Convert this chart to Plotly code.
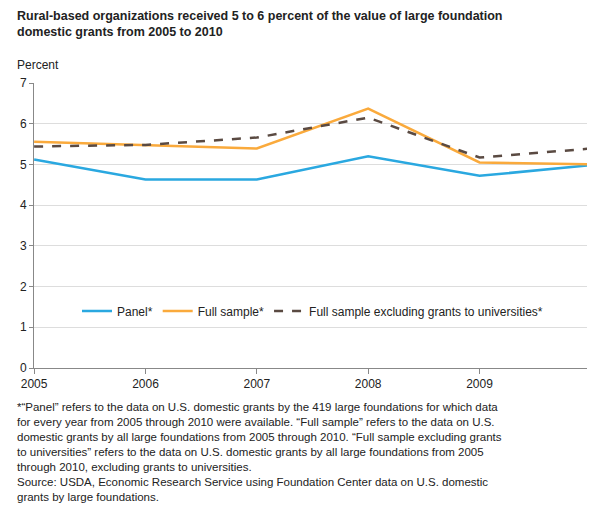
import plotly.graph_objects as go

years = [2005, 2006, 2007, 2008, 2009, 2010]
panel = [5.12, 4.63, 4.63, 5.2, 4.72, 4.98]
full_sample = [5.56, 5.48, 5.39, 6.37, 5.05, 5.0]
full_excl = [5.44, 5.48, 5.66, 6.15, 5.17, 5.39]

fig = go.Figure()
fig.add_trace(go.Scatter(x=years, y=panel, mode='lines', name='Panel*',
                         line=dict(color='#2AA8E0', width=2.5)))
fig.add_trace(go.Scatter(x=years, y=full_sample, mode='lines', name='Full sample*',
                         line=dict(color='#FAAA3C', width=2.5)))
fig.add_trace(go.Scatter(x=years, y=full_excl, mode='lines',
                         name='Full sample excluding grants to universities*',
                         line=dict(color='#5A4A42', width=2.5, dash='dash')))

notes = ("*“Panel” refers to the data on U.S. domestic grants by the 419 large foundations for which data<br>"
         "for every year from 2005 through 2010 were available. “Full sample” refers to the data on U.S.<br>"
         "domestic grants by all large foundations from 2005 through 2010. “Full sample excluding grants<br>"
         "to universities” refers to the data on U.S. domestic grants by all large foundations from 2005<br>"
         "through 2010, excluding grants to universities.<br>"
         "Source: USDA, Economic Research Service using Foundation Center data on U.S. domestic<br>"
         "grants by large foundations.")

fig.update_layout(
    width=595, height=532,
    margin=dict(l=22, r=12, t=75, b=172),
    plot_bgcolor='white', paper_bgcolor='white',
    font=dict(family='Liberation Sans, Arial', size=12, color='#222'),
    showlegend=True,
    legend=dict(orientation='h', x=0.5, xanchor='center', y=0.2, yanchor='middle',
                bgcolor='rgba(0,0,0,0)', font=dict(size=12)),
    xaxis=dict(range=[2004.999, 2010.001], tickvals=years, showgrid=False, zeroline=False,
               showline=True, linecolor='#888', ticks='outside', ticklen=5, tickcolor='#888'),
    yaxis=dict(range=[0, 7], dtick=1, showgrid=True, gridcolor='#ddd', zeroline=False,
               showline=True, linecolor='#888', ticks='outside', ticklen=4, tickcolor='#888'),
    annotations=[
        dict(text='<b>Rural-based organizations received 5 to 6 percent of the value of large foundation<br>'
                  'domestic grants from 2005 to 2010</b>',
             xref='paper', yref='paper', x=-0.035, y=1.265, xanchor='left', yanchor='top',
             showarrow=False, align='left', font=dict(size=12.5)),
        dict(text='Percent', xref='paper', yref='paper', x=-0.035, y=1.03,
             xanchor='left', yanchor='bottom', showarrow=False),
        dict(text=notes, xref='paper', yref='paper', x=-0.035, y=-0.11,
             xanchor='left', yanchor='top', showarrow=False, align='left',
             font=dict(size=11.5)),
    ],
)

fig.write_html("out.html")
